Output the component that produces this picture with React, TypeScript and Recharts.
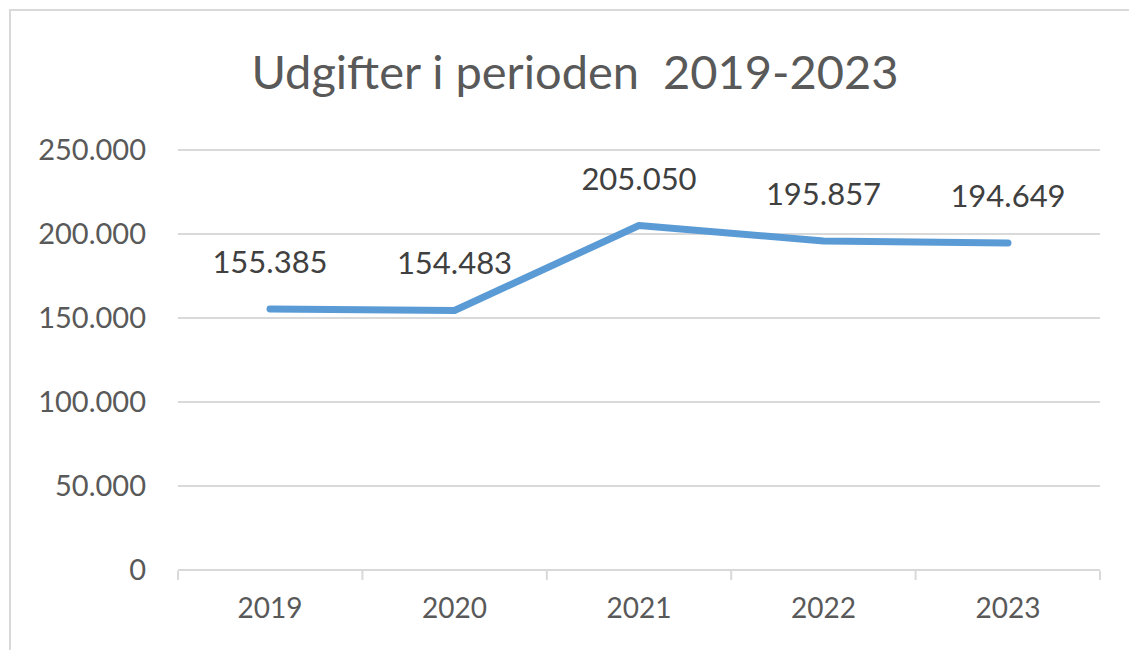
import React from "react";
import {
  LineChart,
  Line,
  XAxis,
  YAxis,
  CartesianGrid,
  LabelList,
} from "recharts";

const YEARS = ["2019", "2020", "2021", "2022", "2023"];
const EXPENSES = [155385, 154483, 205050, 195857, 194649];
const Y_TICKS = [0, 50000, 100000, 150000, 200000, 250000];
const EDGE_TICKS = [0, 1, 2, 3, 4, 5];

// slot = middle of each category band, used by the tick-mark axis
const data = YEARS.map((year, i) => ({ year, slot: i + 0.5, value: EXPENSES[i] }));

const FONT = "Lato, 'Open Sans', sans-serif";
const GRID = "#d9d9d9";

// Danish style thousands separator
const fmt = (v: number) =>
  Math.round(v).toString().replace(/\B(?=(\d{3})+(?!\d))/g, ".");

export default function App() {
  return (
    <div
      style={{
        position: "absolute",
        left: 0,
        top: 0,
        width: 1129,
        height: 650,
        background: "#fff",
        overflow: "hidden",
        fontFamily: FONT,
      }}
    >
      {/* chart frame, only top and left edges are in view */}
      <div
        style={{
          position: "absolute",
          left: 9,
          top: 9,
          width: 1200,
          height: 700,
          borderTop: `2px solid ${GRID}`,
          borderLeft: `2px solid ${GRID}`,
        }}
      />
      <div
        style={{
          position: "absolute",
          left: 0,
          width: 1150,
          top: 43,
          textAlign: "center",
          fontSize: 47,
          color: "#595959",
          whiteSpace: "pre",
        }}
      >
        {"Udgifter i perioden  2019-2023"}
      </div>
      <div style={{ position: "absolute", left: 0, top: 0 }}>
        <LineChart
          width={1129}
          height={650}
          data={data}
          margin={{ top: 150, right: 29, bottom: 78, left: 0 }}
        >
          <CartesianGrid vertical={false} stroke={GRID} strokeWidth={2} />
          <XAxis
            dataKey="year"
            height={1}
            padding={{ left: 92, right: 92 }}
            axisLine={{ stroke: GRID, strokeWidth: 2 }}
            tickLine={false}
            tickSize={6}
            tickMargin={22}
            tick={{ fill: "#595959", fontSize: 28, fontFamily: FONT }}
          />
          {/* tick marks between the categories, Excel style */}
          <XAxis
            xAxisId="edges"
            dataKey="slot"
            type="number"
            domain={[0, 5]}
            allowDataOverflow
            ticks={EDGE_TICKS}
            interval={0}
            height={1}
            axisLine={false}
            tickLine={{ stroke: GRID, strokeWidth: 2 }}
            tickSize={9}
            tick={() => <g />}
          />
          <YAxis
            width={178}
            domain={[0, 250000]}
            ticks={Y_TICKS}
            axisLine={false}
            tickLine={false}
            tickSize={6}
            tickMargin={26}
            tickFormatter={fmt}
            tick={{ fill: "#595959", fontSize: 29, fontFamily: FONT }}
          />
          <Line
            type="linear"
            dataKey="value"
            stroke="#5b9bd5"
            strokeWidth={7}
            strokeLinecap="round"
            strokeLinejoin="round"
            dot={false}
            isAnimationActive={false}
          >
            <LabelList
              dataKey="value"
              position="top"
              offset={36}
              formatter={(v: any) => fmt(Number(v))}
              style={{ fill: "#404040", fontSize: 31, fontFamily: FONT }}
            />
          </Line>
        </LineChart>
      </div>
    </div>
  );
}
